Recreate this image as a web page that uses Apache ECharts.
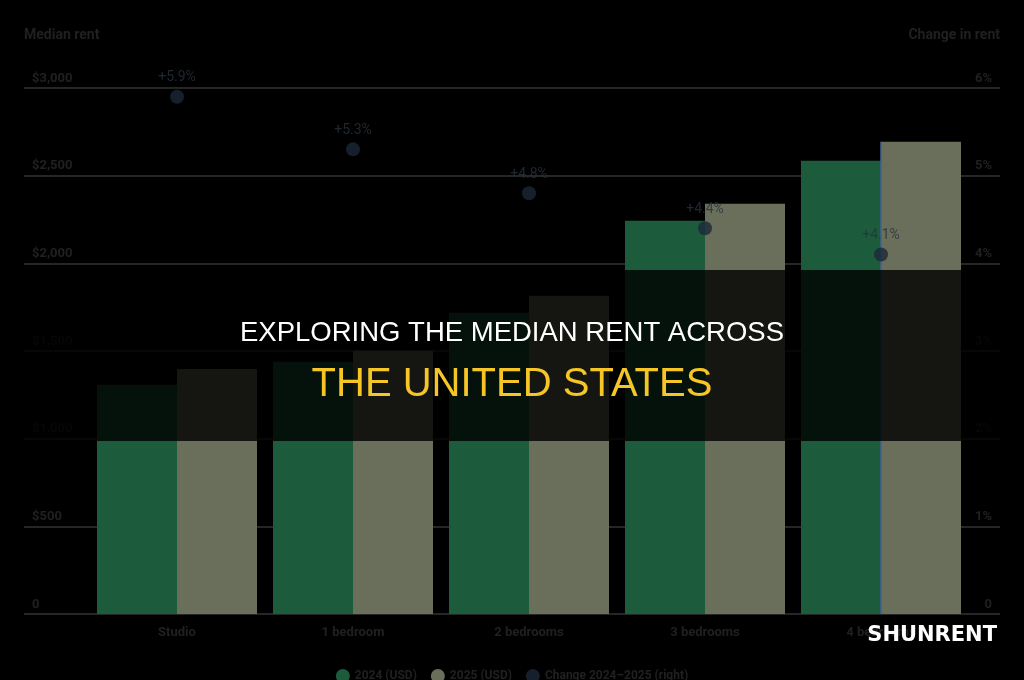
<!DOCTYPE html>
<html>
<head>
<meta charset="utf-8">
<script src="https://cdn.jsdelivr.net/npm/echarts@6/dist/echarts.min.js"></script>
<style>
  html, body { margin: 0; padding: 0; background: #000; }
  #chart { width: 1024px; height: 680px; }
</style>
</head>
<body>
<div id="chart"></div>
<script>
// data
const categories = ["Studio", "1 bedroom", "2 bedrooms", "3 bedrooms", "4 bedrooms"];
const rent2024 = [1307, 1438, 1718, 2243, 2585];
const rent2025 = [1398, 1501, 1815, 2340, 2694];
const changePct = [5.9, 5.3, 4.8, 4.4, 4.1];
const seriesNames = ["2024 (USD)", "2025 (USD)", "Change 2024–2025 (right)"];

const faint = "#202020";
const font = "Roboto";

const chart = echarts.init(document.getElementById("chart"));
const option = {
  backgroundColor: "#000",
  animation: false,
  textStyle: { fontFamily: font },
  legend: {
    left: "center",
    top: 664,
    icon: "circle",
    itemWidth: 14,
    itemHeight: 14,
    itemGap: 14,
    textStyle: { color: faint, fontSize: 12, fontWeight: "bold", fontFamily: font },
    data: seriesNames,
  },
  grid: [
    { left: 24, right: 24, top: 88, bottom: 66 },
    { left: 89, right: 55, top: 88, bottom: 66 },
  ],
  xAxis: [
    { gridIndex: 0, type: "value", min: 0, max: 1, show: false },
    {
      gridIndex: 1,
      type: "category",
      data: categories,
      axisLine: { show: false },
      axisTick: { show: false },
      axisLabel: { color: faint, fontSize: 13, fontWeight: "bold", margin: 12 },
    },
  ],
  yAxis: [
    {
      gridIndex: 0,
      type: "value",
      min: 0,
      max: 3000,
      interval: 500,
      name: "Median rent",
      nameLocation: "end",
      nameGap: 46,
      nameTextStyle: { color: faint, fontSize: 14, fontWeight: "bold", align: "left", verticalAlign: "bottom" },
      axisLine: { show: false },
      axisTick: { show: false },
      splitLine: { lineStyle: { color: "#262626", width: 2 } },
      axisLabel: {
        inside: true,
        align: "left",
        verticalAlign: "bottom",
        padding: [0, 0, 3, 0],
        color: faint,
        fontSize: 13,
        fontWeight: "bold",
        formatter: (v) => (v === 0 ? "0" : "$" + v.toLocaleString("en-US")),
      },
    },
    {
      gridIndex: 0,
      type: "value",
      position: "right",
      min: 0,
      max: 6,
      interval: 1,
      name: "Change in rent",
      nameLocation: "end",
      nameGap: 46,
      nameTextStyle: { color: faint, fontSize: 14, fontWeight: "bold", align: "right", verticalAlign: "bottom" },
      axisLine: { show: false },
      axisTick: { show: false },
      splitLine: { show: false },
      axisLabel: {
        inside: true,
        align: "right",
        verticalAlign: "bottom",
        padding: [0, 0, 3, 0],
        color: faint,
        fontSize: 13,
        fontWeight: "bold",
        formatter: (v) => (v === 0 ? "0" : v + "%"),
      },
    },
    { gridIndex: 1, type: "value", min: 0, max: 3000, show: false },
    { gridIndex: 1, type: "value", min: 0, max: 6, show: false },
  ],
  series: [
    {
      name: seriesNames[0],
      type: "bar",
      xAxisIndex: 1,
      yAxisIndex: 2,
      barWidth: 80,
      barGap: "0%",
      itemStyle: { color: "#1d5b3d" },
      data: rent2024,
    },
    {
      name: seriesNames[1],
      type: "bar",
      xAxisIndex: 1,
      yAxisIndex: 2,
      barWidth: 80,
      barGap: "0%",
      itemStyle: { color: "#6a6f5b" },
      data: rent2025,
    },
    {
      // hover guide line on the last category
      type: "scatter",
      xAxisIndex: 1,
      yAxisIndex: 2,
      data: [],
      z: 4,
      markLine: {
        silent: true,
        symbol: "none",
        label: { show: false },
        lineStyle: { color: "#3f6296", width: 1.5, type: "solid" },
        data: [[
          { coord: [categories[4], rent2025[4]] },
          { coord: [categories[4], 0] },
        ]],
      },
    },
    {
      name: seriesNames[2],
      type: "scatter",
      xAxisIndex: 1,
      yAxisIndex: 3,
      symbolSize: 14,
      itemStyle: { color: "#1b2838" },
      label: {
        show: true,
        position: "top",
        distance: 5,
        color: "#28313c",
        fontSize: 14,
        formatter: (p) => "+" + p.value.toFixed(1) + "%",
      },
      z: 5,
      data: changePct,
    },
  ],
  graphic: [
    {
      type: "rect",
      z: 100,
      shape: { x: 0, y: 270, width: 1024, height: 171 },
      style: { fill: "rgba(0,0,0,0.8)" },
    },
    {
      type: "text",
      z: 101,
      x: 512,
      y: 333,
      style: {
        text: "EXPLORING THE MEDIAN RENT ACROSS",
        fill: "#ffffff",
        font: '27.5px "Liberation Sans"',
        textAlign: "center",
        textVerticalAlign: "middle",
      },
    },
    {
      type: "text",
      z: 101,
      x: 512,
      y: 385,
      style: {
        text: "THE UNITED STATES",
        fill: "#f6c526",
        font: '40px "Liberation Sans"',
        textAlign: "center",
        textVerticalAlign: "middle",
      },
    },
    {
      type: "text",
      z: 101,
      x: 997,
      y: 636,
      style: {
        text: "SHUNRENT",
        fill: "#ffffff",
        font: 'bold 21px "DejaVu Sans"',
        textAlign: "right",
        textVerticalAlign: "middle",
      },
    },
  ],
};
chart.setOption(option);
</script>
</body>
</html>
